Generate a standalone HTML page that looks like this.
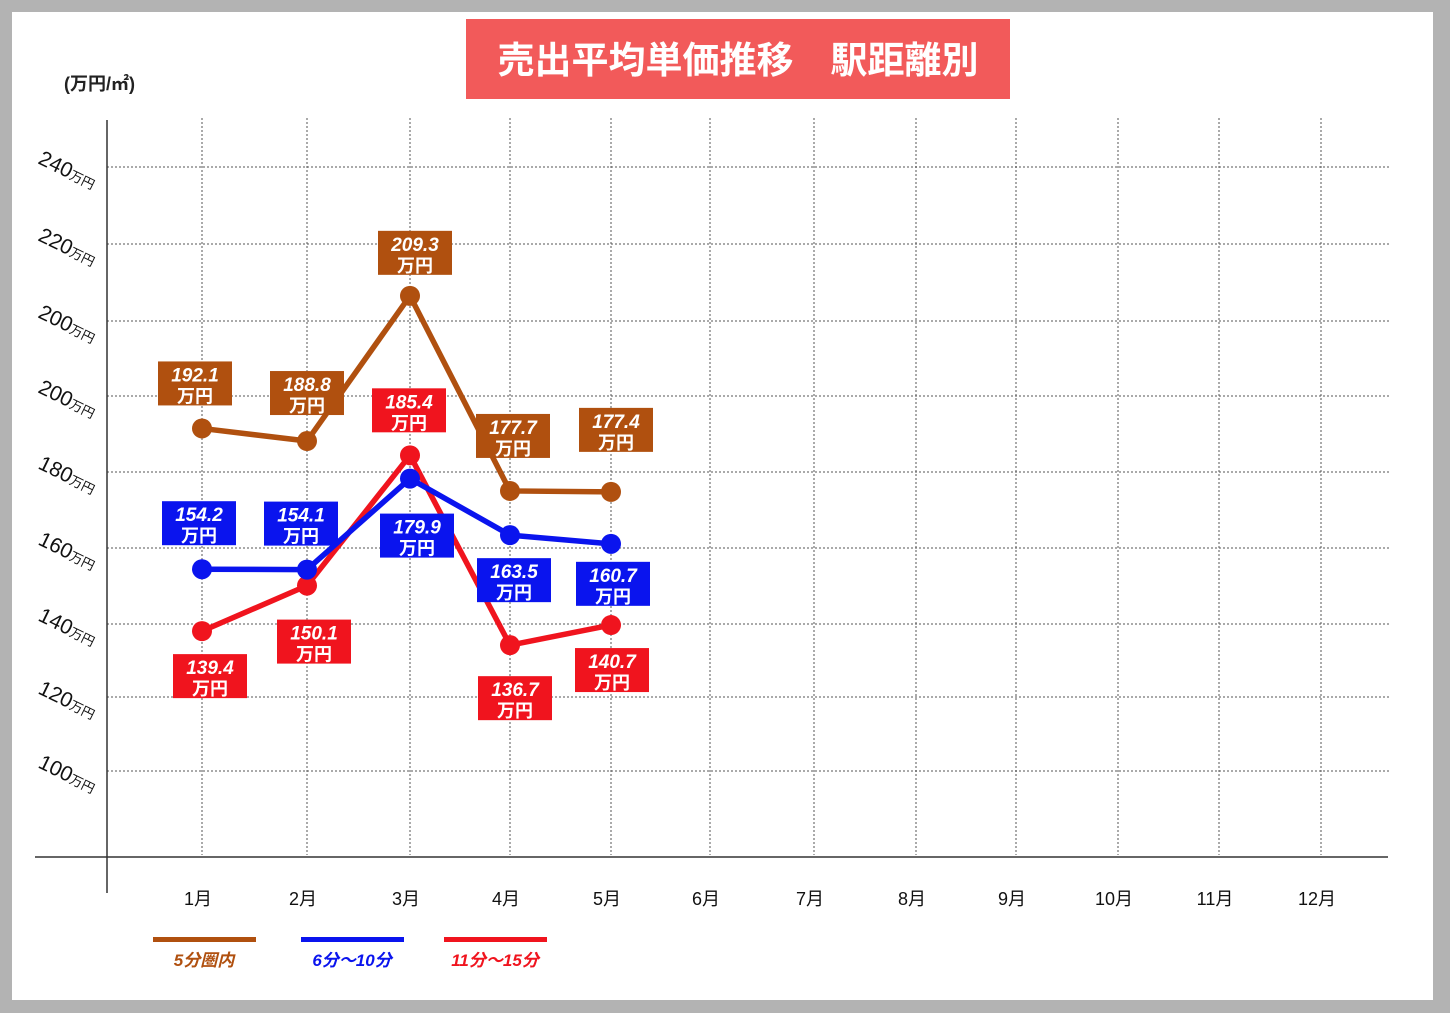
<!DOCTYPE html>
<html><head><meta charset="utf-8">
<style>
html,body{margin:0;padding:0;background:#b3b3b3;}
#wrap{position:relative;width:1450px;height:1013px;background:#b3b3b3;}
svg{position:absolute;left:0;top:0;}
text{font-family:"Liberation Sans","Noto Sans CJK JP",sans-serif;}
</style></head>
<body>
<div id="wrap">
<svg id="chart" width="1450" height="1013">
  <rect x="12" y="12" width="1421" height="988" fill="#ffffff"/>
  <rect x="466" y="19" width="544" height="80" fill="#f25a5a"/>
  <text x="738" y="73" text-anchor="middle" font-size="37" font-weight="bold" fill="#ffffff">売出平均単価推移　駅距離別</text>
  <text x="64" y="90" font-size="18" font-weight="bold" fill="#222">(万円/㎡)</text>
  <g id="grid"></g>
  <line x1="107" y1="120" x2="107" y2="893" stroke="#333" stroke-width="1.5"/>
  <line x1="35" y1="857" x2="1388" y2="857" stroke="#333" stroke-width="1.5"/>
  <g id="ylabels"></g>
  <g id="xlabels"></g>
  <g id="series"></g>
  <g id="labels"></g>
  <g id="legend"></g>
</svg>
</div>
<script>
const months = ["1月","2月","3月","4月","5月","6月","7月","8月","9月","10月","11月","12月"];
const yTickLabels = ["240","220","200","200","180","160","140","120","100"];
const seriesNames = ["5分圏内","6分～10分","11分～15分"];
const valuesNear = [192.1, 188.8, 209.3, 177.7, 177.4];
const valuesMid = [154.2, 154.1, 179.9, 163.5, 160.7];
const valuesFar = [139.4, 150.1, 185.4, 136.7, 140.7];

const NS = "http://www.w3.org/2000/svg";
function mk(tag, attrs, parent){const e=document.createElementNS(NS,tag);for(const k in attrs)e.setAttribute(k,attrs[k]);parent.appendChild(e);return e;}

const xPos = [202,307,410,510,611,710,814,916,1016,1118,1219,1321];
function xScale(i){return xPos[i];}
// piecewise-linear value axis calibrated to the reference picture
const dom = [120,130,140,150,160,170,178,180,190,200,210,230];
const rng = [760,680,628,586,546,515,490,478,436,400,288,200];
function yScale(v){
  if(v<=dom[0])return rng[0];
  for(let i=1;i<dom.length;i++){if(v<=dom[i]){const t=(v-dom[i-1])/(dom[i]-dom[i-1]);return rng[i-1]+t*(rng[i]-rng[i-1]);}}
  return rng[rng.length-1];
}
const gridY = [167,244,321,396,472,548,624,697,771];

const grid=document.getElementById('grid');
gridY.forEach(y=>{
  const l=mk('line',{x1:107,y1:y,x2:1390,y2:y,stroke:'#555','stroke-width':1,'stroke-dasharray':'2,2'},grid);
  
  
});
xPos.forEach(x=>{
  const l=mk('line',{x1:x,y1:118,x2:x,y2:855,stroke:'#555','stroke-width':1,'stroke-dasharray':'2,2'},grid);
  
  
});

const yl=document.getElementById('ylabels');
yTickLabels.forEach((t,i)=>{
  const y=gridY[i];
  const g=mk('text',{x:37,y:y-4,'font-size':21,fill:'#111',transform:`rotate(26 37 ${y-4})`},yl);
  
  
  g.textContent=t;
  const s=mk('tspan',{'font-size':13},g);s.textContent='万円';
});

const xl=document.getElementById('xlabels');
months.forEach((m,i)=>{
  const t=mk('text',{x:xScale(i)-4,y:905,'font-size':18,'text-anchor':'middle',fill:'#111'},xl);
  
  
  t.textContent=m;
});

const colors=['#b0500f','#0a14ee','#f0141e'];
const allVals=[valuesNear,valuesMid,valuesFar];
// label box center offsets relative to each point (layout only)
const offs=[
  [[-7,-45],[0,-48],[5,-43],[3,-55],[5,-62]],
  [[-3,-46],[-6,-46],[7,57],[4,45],[2,40]],
  [[8,45],[7,56],[-1,-45],[5,53],[1,45]]
];
const ser=document.getElementById('series');
const lab=document.getElementById('labels');
[0,2,1].forEach(si=>{
  const vals=allVals[si];
  const pts=vals.map((v,i)=>xScale(i)+','+yScale(v)).join(' ');
  const pl=mk('polyline',{points:pts,fill:'none',stroke:colors[si],'stroke-width':5.5,'stroke-linejoin':'round'},ser);
  
  
  vals.forEach((v,i)=>{
    const c=mk('circle',{cx:xScale(i),cy:yScale(v),r:10,fill:colors[si]},ser);
    
    
  });
});
[0,1,2].forEach(si=>{
  allVals[si].forEach((v,i)=>{
    const cx=xScale(i)+offs[si][i][0], cy=yScale(v)+offs[si][i][1];
    const g=mk('g',{},lab);
    
    
    mk('rect',{x:cx-37,y:cy-22,width:74,height:44,fill:colors[si]},g);
    const t1=mk('text',{x:cx,y:cy-2,'text-anchor':'middle','font-size':19,'font-weight':'bold','font-style':'italic',fill:'#fff'},g);
    t1.textContent=v.toFixed(1);
    const t2=mk('text',{x:cx,y:cy+19,'text-anchor':'middle','font-size':18,'font-weight':'bold',fill:'#fff'},g);
    t2.textContent='万円';
  });
});

const lg=document.getElementById('legend');
const lgx=[153,301,444];
seriesNames.forEach((n,i)=>{
  const g=mk('g',{},lg);
  
  
  mk('rect',{x:lgx[i],y:937,width:103,height:5,fill:colors[i]},g);
  const t=mk('text',{x:lgx[i]+51,y:966,'text-anchor':'middle','font-size':17,'font-weight':'bold','font-style':'italic',fill:colors[i]},g);
  t.textContent=n;
});
</script>
</body></html>
